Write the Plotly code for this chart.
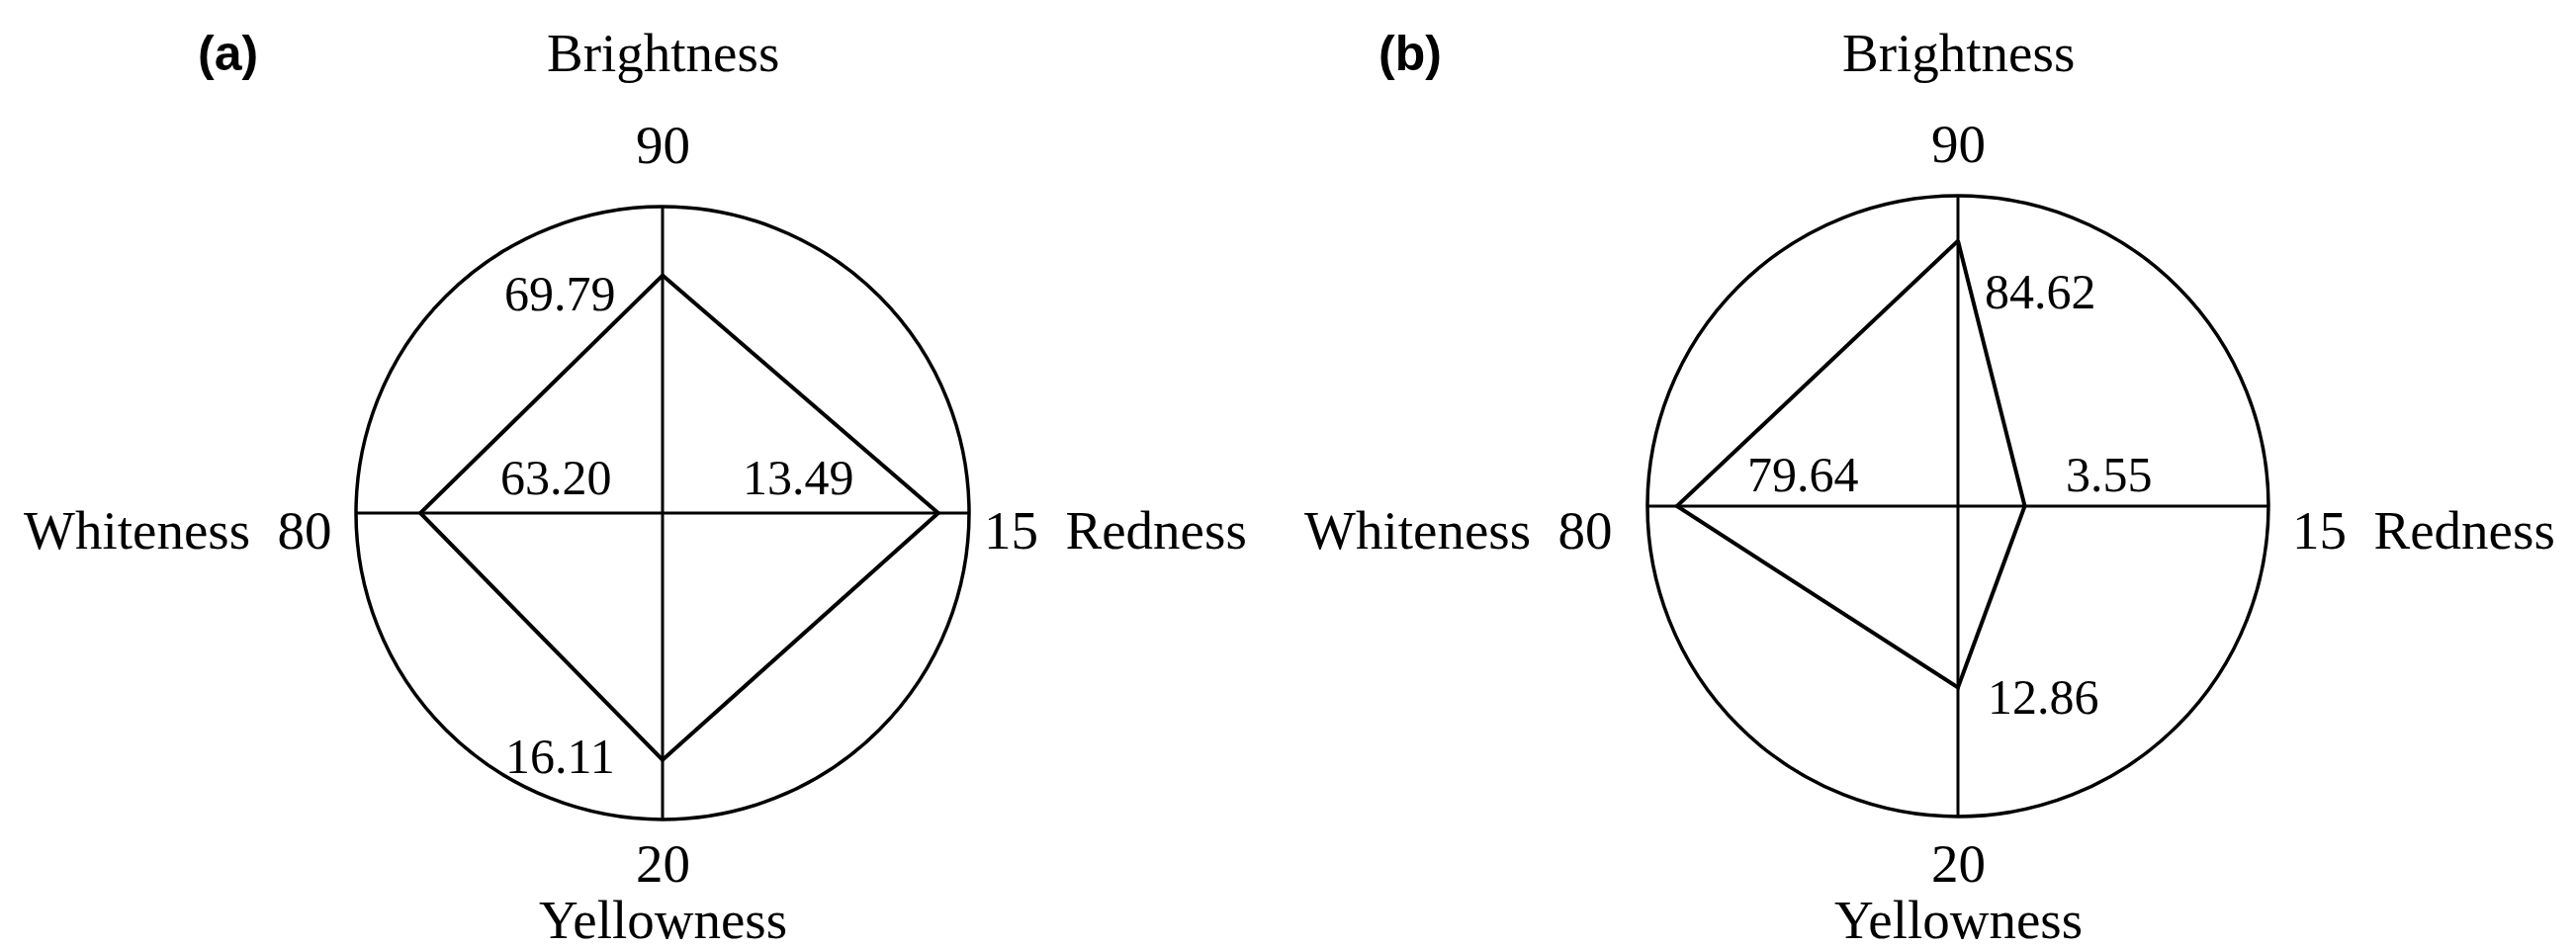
import plotly.graph_objects as go

# axes of the colour diagram, clockwise from the top
axes = ["Brightness", "Redness", "Yellowness", "Whiteness"]
axis_max = [90, 15, 20, 80]

values_a = [69.79, 13.49, 16.11, 63.20]
values_b = [84.62, 3.55, 12.86, 79.64]

W, H = 2605, 960
SERIF = "Liberation Serif, Times New Roman, serif"
WORD_SIZE = 55
VALUE_SIZE = 50

# panel geometry in pixels (centre, radius) and where the texts go
panels = [
    dict(name="polar", tag="(a)", values=values_a, cx=662, cy=511, rad=310, rmax=1.0,
         tag_x=222, top_y=(45, 138), right_x=985, left_x=330, side_y=528, bottom_num_y=865,
         value_pos=[(558, 289), (800, 475), (558, 757), (554, 475)]),
    dict(name="polar2", tag="(b)", values=values_b, cx=1972, cy=504, rad=314, rmax=1.1,
         tag_x=1418, top_y=(45, 137), right_x=2308, left_x=1625, side_y=528, bottom_num_y=865,
         value_pos=[(2055, 287), (2125, 472), (2058, 697), (1815, 472)]),
]

fig = go.Figure()
annotations = []


def note(text, x, y, xanchor="center", yanchor="middle", size=WORD_SIZE, family=SERIF, bold=False):
    if bold:
        text = f"<b>{text}</b>"
    annotations.append(dict(
        text=text, x=x / W, y=1 - y / H, xref="paper", yref="paper",
        xanchor=xanchor, yanchor=yanchor, showarrow=False,
        font=dict(family=family, size=size, color="black"),
    ))


for p in panels:
    r = [v / m for v, m in zip(p["values"], axis_max)]
    fig.add_trace(go.Scatterpolar(
        r=r + r[:1],
        theta=axes + axes[:1],
        mode="lines",
        line=dict(color="black", width=4),
        subplot=p["name"],
        showlegend=False,
        hoverinfo="skip",
    ))

    cx, cy, rad = p["cx"], p["cy"], p["rad"]
    fig.update_layout(**{p["name"]: dict(
        domain=dict(x=[(cx - rad) / W, (cx + rad) / W],
                    y=[1 - (cy + rad) / H, 1 - (cy - rad) / H]),
        bgcolor="white",
        radialaxis=dict(visible=False, range=[0, p["rmax"]], showgrid=False),
        angularaxis=dict(
            type="category", categoryarray=axes,
            rotation=90, direction="clockwise",
            showline=True, linecolor="black", linewidth=3.5,
            showgrid=True, gridcolor="black", gridwidth=3,
            showticklabels=False, ticks="",
        ),
    )})

    # panel tag
    note(p["tag"], p["tag_x"], 46, size=50, family="Liberation Sans, Arial, sans-serif", bold=True)

    # axis names with their maximum values
    note(axes[0], cx, p["top_y"][0])
    note(f"{axis_max[0]}", cx, p["top_y"][1])
    note(f"{axis_max[1]}\u00a0 {axes[1]}", p["right_x"], p["side_y"], xanchor="left")
    note(f"{axis_max[2]}", cx, p["bottom_num_y"])
    note(axes[2], cx, H - 5, yanchor="bottom")
    note(f"{axes[3]}\u00a0 {axis_max[3]}", p["left_x"], p["side_y"], xanchor="right")

    # measured values next to each vertex
    for v, (x, y) in zip(p["values"], p["value_pos"]):
        note(f"{v:.2f}", x, y, size=VALUE_SIZE)

fig.update_layout(
    width=W, height=H,
    margin=dict(l=0, r=0, t=0, b=0),
    paper_bgcolor="white",
    plot_bgcolor="white",
    annotations=annotations,
)

fig.write_html("out.html")
